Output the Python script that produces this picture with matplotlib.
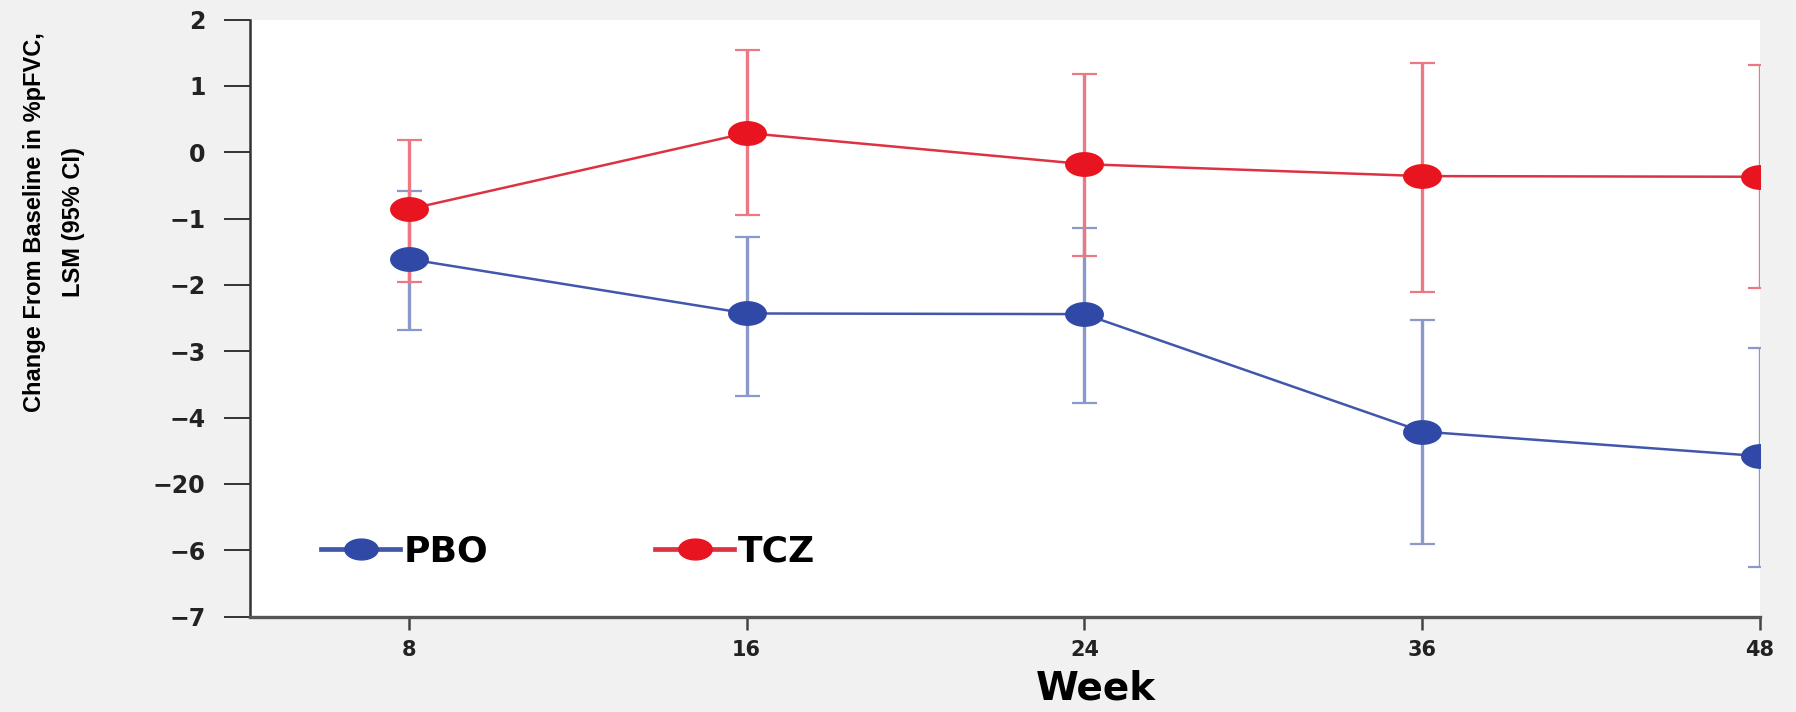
import numpy as np
import matplotlib
matplotlib.use("Agg")
import matplotlib.pyplot as plt
from matplotlib.path import Path

# data
weeks = ["8", "16", "24", "36", "48"]
y_ticks = [2, 1, 0, -1, -2, -3, -4, -5, -6, -7]
y_tick_labels = ["2", "1", "0", "\u22121", "\u22122", "\u22123", "\u22124", "\u221220", "\u22126", "\u22127"]

pbo_mean = [-1.61, -2.43, -2.44, -4.21, -4.58]
pbo_low = [-2.68, -3.67, -3.78, -5.91, -6.25]
pbo_high = [-0.59, -1.28, -1.14, -2.53, -2.95]

tcz_mean = [-0.86, 0.29, -0.18, -0.36, -0.37]
tcz_low = [-1.96, -0.95, -1.57, -2.11, -2.04]
tcz_high = [0.19, 1.54, 1.18, 1.35, 1.31]

wide = "DejaVu Sans"
narrow = "Liberation Sans"

# flattened circle marker (the reference is stretched sideways)
t = np.linspace(0, 2 * np.pi, 60)
ellipse = Path(np.column_stack([1.6 * np.cos(t), np.sin(t)]), closed=True)

W, H = 1796, 712
fig = plt.figure(figsize=(W / 100, H / 100), dpi=100, facecolor="#f1f1f1")
ax = fig.add_axes([250 / W, 1 - 616.7 / H, (1760 - 250) / W, (616.7 - 19.5) / H])
ax.set_facecolor("white")

x = np.arange(len(weeks))

series = [
    (pbo_mean, pbo_low, pbo_high, "#3149a6", "#4257ab", "#8a98cc", "PBO"),
    (tcz_mean, tcz_low, tcz_high, "#e8141f", "#dd3242", "#ec7884", "TCZ"),
]
handles = []
for mean, low, high, mcol, lcol, ecol, name in series:
    mean = np.array(mean)
    err = [mean - np.array(low), np.array(high) - mean]
    ax.errorbar(x, mean, yerr=err, fmt="none", ecolor=ecol, elinewidth=2.4,
                capsize=9, capthick=1.6, zorder=2)
    ax.plot(x, mean, color=lcol, lw=1.8, zorder=3)
    ax.plot(x, mean, ls="none", marker=ellipse, ms=27, color=mcol, mec=mcol, zorder=4)
    h, = ax.plot([], [], color=lcol, lw=3.4, marker=ellipse, ms=24, mfc=mcol, mec=mcol, label=name)
    handles.append(h)

ax.set_xlim(-0.47, 4)
ax.set_ylim(-7, 2)
ax.set_xticks(x)
ax.set_xticklabels(weeks, fontsize=15, fontweight="bold", family=wide, color="#222222")
ax.set_yticks(y_ticks)
ax.set_yticklabels(y_tick_labels, fontsize=17, fontweight="bold", family=wide, color="#222222")

for s in ["top", "right"]:
    ax.spines[s].set_visible(False)
ax.spines["left"].set_color("#333333")
ax.spines["left"].set_linewidth(1.8)
ax.spines["bottom"].set_color("#555555")
ax.spines["bottom"].set_linewidth(2.4)
ax.tick_params(axis="y", length=19, width=1.4, color="#333333", pad=13)
ax.tick_params(axis="x", length=9, width=1.8, color="#444444", pad=8)

leg = ax.legend(handles=handles, loc="center left", ncol=2, frameon=False,
                bbox_to_anchor=(321 / W, 1 - 552 / H), bbox_transform=fig.transFigure,
                borderpad=0, borderaxespad=0, handlelength=2.2, handletextpad=0.1,
                columnspacing=4.6, prop={"family": wide, "weight": "bold", "size": 26})

fig.text(1096 / W, 1 - 688 / H, "Week", ha="center", va="center",
         fontsize=28, fontweight="bold", family=wide)

# y label: fit the first line to the reference length (~380 px)
ylab = fig.text(54 / W, 1 - 222 / H, "Change From Baseline in %pFVC,\nLSM (95% CI)",
                rotation=90, ha="center", va="center", multialignment="center",
                fontsize=20, fontweight="bold", family=narrow, linespacing=1.9)
r = fig.canvas.get_renderer()
span = ylab.get_window_extent(r).height
ylab.set_fontsize(20 * 380 / span)

fig.savefig("out.png", dpi=100, facecolor=fig.get_facecolor())
